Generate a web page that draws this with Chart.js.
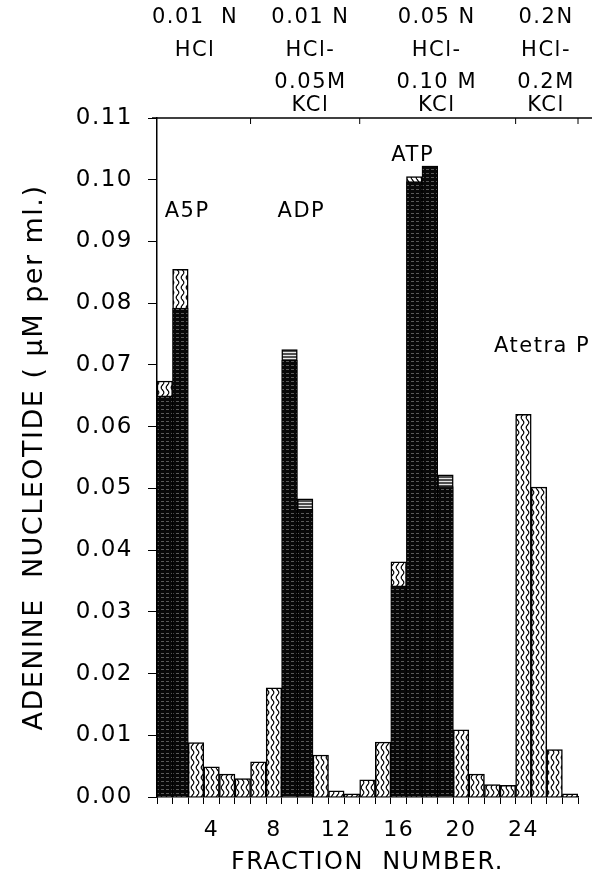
<!DOCTYPE html>
<html><head><meta charset="utf-8">
<script src="https://cdn.jsdelivr.net/npm/chart.js@4"></script>
<style>html,body{margin:0;padding:0;background:#fff}</style>
</head><body>
<canvas id="c" width="595" height="881"></canvas>
<script>
// ---- data ----
const fractions = ['1','2','3','4','5','6','7','8','9','10','11','12','13','14','15','16','17','18','19','20','21','22','23','24','25','26','27'];
const totalNucleotide = [0.0674,0.0855,0.0088,0.0049,0.0037,0.0030,0.0057,0.0177,0.0725,0.0483,0.0068,0.0010,0.0005,0.0028,0.0089,0.0381,0.1005,0.1022,0.0522,0.0109,0.0037,0.0020,0.0019,0.0620,0.0502,0.0077,0.0005];
const darkNucleotide = [0.0650,0.0792,null,null,null,null,null,null,0.0708,0.0466,null,null,null,null,null,0.0342,0.0997,0.1022,0.0503,null,null,null,null,null,null,null,null];
const stripedCapFractions = ['9','10','19'];
const xTickLabels = ['4','8','12','16','20','24'];
const yTickValues = [0,0.01,0.02,0.03,0.04,0.05,0.06,0.07,0.08,0.09,0.10,0.11];
const peakNames = ['A5P','ADP','ATP','Atetra P'];
const peakFraction = [2.43, 9.76, 16.9, 25.2];
const peakLevel = [0.0948, 0.0948, 0.1039, 0.0729];
const eluentLabels = [
  ['0.01  N','HCl'],
  ['0.01 N','HCl-','0.05M','KCl'],
  ['0.05 N','HCl-','0.10 M','KCl'],
  ['0.2N','HCl-','0.2M','KCl']
];
const eluentCenterFraction = [2.94, 10.34, 18.44, 25.45];
const eluentChangeAfterFraction = [6, 13, 23, 27];

// ---- patterns ----
const canvas = document.getElementById('c');
const mainCtx = canvas.getContext('2d');
function makePattern(w, h, draw) {
  const c = document.createElement('canvas'); c.width = w; c.height = h;
  const g = c.getContext('2d'); draw(g, w, h);
  return mainCtx.createPattern(c, 'repeat');
}
const wavy = makePattern(5, 10, (g, w, h) => {
  g.fillStyle = '#fff'; g.fillRect(0, 0, w, h);
  g.strokeStyle = '#000'; g.lineWidth = 1.2; g.beginPath();
  for (let y = -1; y <= h + 1; y += 0.5) {
    const x = 2.5 + 1.3 * Math.sin(2 * Math.PI * y / h);
    if (y === -1) g.moveTo(x, y); else g.lineTo(x, y);
  }
  g.stroke();
});
const darkHatch = makePattern(5, 4, (g, w, h) => {
  g.fillStyle = '#080808'; g.fillRect(0, 0, w, h);
  g.fillStyle = '#5a5a5a'; g.fillRect(1, 1, 3, 1);
});
const stripes = makePattern(4, 3, (g, w, h) => {
  g.fillStyle = '#505050'; g.fillRect(0, 0, w, h);
  g.fillStyle = '#e8e8e8'; g.fillRect(0, 1, w, 1);
});
const totalFill = fractions.map(f => stripedCapFractions.includes(f) ? stripes : wavy);

const FONT = 'DejaVu Sans';
const SP = '1.5px';
const spacing = {
  id: 'spacing',
  beforeLayout(c) { c.ctx.letterSpacing = SP; },
  beforeDraw(c) { c.ctx.letterSpacing = SP; }
};
const decorations = {
  id: 'decorations',
  afterDraw(chart) {
    const {ctx, chartArea, scales: {x, y}} = chart;
    ctx.save();
    ctx.letterSpacing = SP;
    ctx.fillStyle = '#000'; ctx.strokeStyle = '#000';
    // peak names
    ctx.font = '21px "' + FONT + '"';
    ctx.textAlign = 'center'; ctx.textBaseline = 'middle';
    peakNames.forEach((n, i) => {
      ctx.fillText(n, x.getPixelForValue(peakFraction[i] - 1), y.getPixelForValue(peakLevel[i]));
    });
    // top line and ticks
    const top = chartArea.top;
    ctx.lineWidth = 1.5;
    ctx.beginPath(); ctx.moveTo(chartArea.left - 5, top); ctx.lineTo(chartArea.right + 14, top); ctx.stroke();
    ctx.lineWidth = 1;
    eluentChangeAfterFraction.forEach(f => {
      const px = x.getPixelForValue(f - 0.5);
      ctx.beginPath(); ctx.moveTo(px, top); ctx.lineTo(px, top + 6); ctx.stroke();
    });
    // eluent labels
    ctx.font = '21px "' + FONT + '"';
    const lineY = [18, 51, 83, 106];
    eluentLabels.forEach((lines, i) => {
      const cx = x.getPixelForValue(eluentCenterFraction[i] - 1);
      lines.forEach((t, j) => ctx.fillText(t, cx, lineY[j]));
    });
    ctx.restore();
  }
};

new Chart(canvas, {
  type: 'bar',
  data: {
    labels: fractions,
    datasets: [
      { label: 'dark', data: darkNucleotide, backgroundColor: darkHatch, borderColor: '#000', borderWidth: 1,
        barPercentage: 1, categoryPercentage: 1, grouped: false },
      { label: 'total', data: totalNucleotide, backgroundColor: totalFill, borderColor: '#000', borderWidth: 1.5,
        barPercentage: 1, categoryPercentage: 1, grouped: false }
    ]
  },
  options: {
    responsive: false, animation: false, devicePixelRatio: 1,
    layout: { padding: { top: 118, right: 17, left: 0, bottom: 0 } },
    plugins: { legend: { display: false }, tooltip: { enabled: false } },
    scales: {
      x: {
        type: 'category', offset: true,
        grid: { offset: true, drawOnChartArea: false, drawTicks: true, tickLength: 7, color: '#000', lineWidth: 1 },
        border: { display: true, color: '#000', width: 1.5 },
        ticks: { autoSkip: false, maxRotation: 0, color: '#000', padding: 13, font: { family: FONT, size: 22 },
          callback(v, i) { const l = fractions[i]; return xTickLabels.includes(l) ? l : ''; } },
        title: { display: true, text: 'FRACTION  NUMBER.', color: '#000', font: { family: FONT, size: 24 }, padding: { top: 0, bottom: 4 } },
        afterFit(s) { s.height = 84; }
      },
      y: {
        min: 0, max: 0.11,
        afterBuildTicks(s) { s.ticks = yTickValues.map(v => ({ value: v })); },
        grid: { drawOnChartArea: false, drawTicks: true, tickLength: 9, color: '#000', lineWidth: 1 },
        border: { display: true, color: '#000', width: 1.5 },
        ticks: { color: '#000', padding: 15, font: { family: FONT, size: 23 }, callback(v) { return Number(v).toFixed(2); } },
        title: { display: true, text: 'ADENINE  NUCLEOTIDE ( μM per ml.)', color: '#000', font: { family: FONT, size: 27 }, padding: { top: 19, bottom: 0 } },
        afterFit(s) { s.width = 157; }
      }
    }
  },
  plugins: [spacing, decorations]
});
</script>
</body></html>
